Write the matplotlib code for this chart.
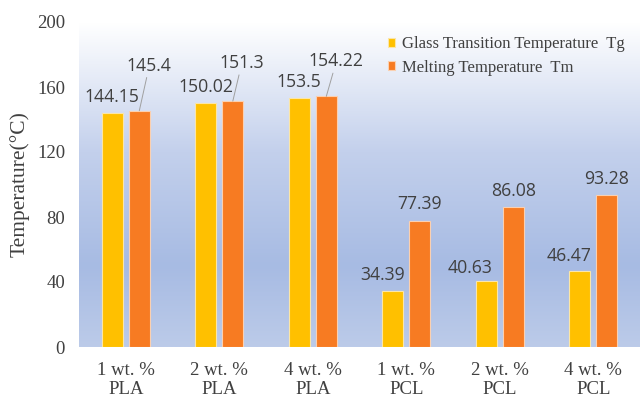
import numpy as np
import matplotlib.pyplot as plt
from matplotlib.colors import LinearSegmentedColormap

categories = ["1 wt. %\nPLA", "2 wt. %\nPLA", "4 wt. %\nPLA",
              "1 wt. %\nPCL", "2 wt. %\nPCL", "4 wt. %\nPCL"]
tg_values = [144.15, 150.02, 153.5, 34.39, 40.63, 46.47]
tm_values = [145.4, 151.3, 154.22, 77.39, 86.08, 93.28]
tg_labels = ["144.15", "150.02", "153.5", "34.39", "40.63", "46.47"]
tm_labels = ["145.4", "151.3", "154.22", "77.39", "86.08", "93.28"]
series_names = ["Glass Transition Temperature  Tg", "Melting Temperature  Tm"]
y_ticks = [0, 40, 80, 120, 160, 200]

serif = "Liberation Serif"
sans = "Open Sans"

fig = plt.figure(figsize=(6.43, 3.99), dpi=100)
ax = fig.add_axes([79 / 643, 1 - 347 / 399, 561 / 643, 325 / 399])

# gradient backdrop: white at top, blue lower down, slightly lighter at base
cmap = LinearSegmentedColormap.from_list(
    "bg", [(0.0, "#bccbe9"), (0.25, "#a7bbe3"), (0.6, "#c3d0ec"), (1.0, "#ffffff")])
grad = np.linspace(0, 1, 256).reshape(-1, 1)
ax.imshow(grad, aspect="auto", cmap=cmap, origin="lower",
          extent=[-0.5, 5.5, 0, 200], zorder=0)

x = np.arange(len(categories))
w = 0.225
off = 0.145
ax.bar(x - off, tg_values, w, color="#ffc000", edgecolor="#fbe6a8", linewidth=0.8,
       label=series_names[0], zorder=2)
ax.bar(x + off, tm_values, w, color="#f77b22", edgecolor="#fbd0b0", linewidth=0.8,
       label=series_names[1], zorder=2)

ax.set_xlim(-0.5, 5.5)
ax.set_ylim(0, 200)
ax.set_yticks(y_ticks)
ax.set_yticklabels([str(t) for t in y_ticks], fontfamily=serif, fontsize=13.5, color="#404040")
ax.set_xticks(x)
ax.set_xticklabels(categories, fontfamily=serif, fontsize=13.5, color="#404040",
                   linespacing=1.1)
ax.tick_params(length=0, pad=10)
ax.tick_params(axis="x", pad=11)
for s in ax.spines.values():
    s.set_visible(False)
ax.set_ylabel("Temperature(°C)", fontfamily=serif, fontsize=15.5, color="#404040", labelpad=5)

lab_kw = dict(fontfamily=sans, fontsize=12.7, color="#404040", ha="center", va="center",
              textcoords="offset pixels", zorder=3)

# label placement, in pixels relative to the bar top
tg_dx = [0, 0, 0, -10, -16, -11]
tg_dy = [16, 16, 16, 16, 13, 15]
tm_dx = [10, 9, 10, 0, 0, 0]
tm_dy = [45, 38, 35, 17, 16, 16]

for i in range(len(categories)):
    ax.annotate(tg_labels[i], (x[i] - off, tg_values[i]),
                xytext=(tg_dx[i], tg_dy[i]), **lab_kw)
    if i < 3:
        # lifted label joined to its bar by a thin leader line
        ax.annotate(tm_labels[i], (x[i] + off, tm_values[i]),
                    xytext=(tm_dx[i], tm_dy[i]), **lab_kw,
                    arrowprops=dict(arrowstyle="-", color="#a0a0a0", lw=0.7,
                                    shrinkA=0, shrinkB=0))
    else:
        ax.annotate(tm_labels[i], (x[i] + off, tm_values[i]),
                    xytext=(tm_dx[i], tm_dy[i]), **lab_kw)

leg = ax.legend(loc="upper left", bbox_to_anchor=(0.525, 1.0), frameon=False,
                prop={"family": serif, "size": 12}, handlelength=0.45, handleheight=0.45,
                handletextpad=0.4, labelspacing=0.45, borderpad=0.35)
for t in leg.get_texts():
    t.set_color("#404040")

fig.savefig("out.png", dpi=100)
